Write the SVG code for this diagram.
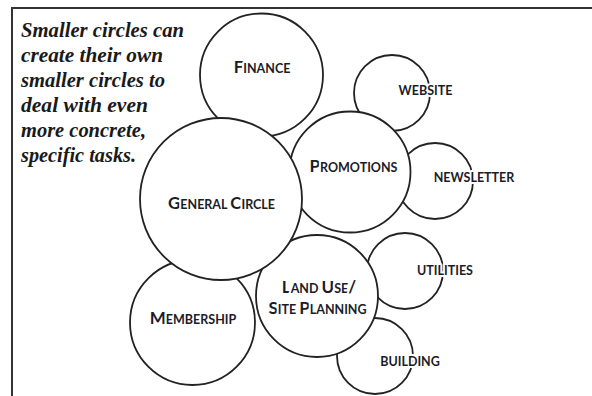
<svg xmlns="http://www.w3.org/2000/svg" width="592" height="396" viewBox="0 0 592 396">
<style>
.c{fill:#fff;stroke:#222;stroke-width:1.8}
.lb{font-family:Lato,"Open Sans",sans-serif;font-weight:bold;fill:#1c1c28;text-anchor:middle;stroke:#fff;stroke-width:4;paint-order:stroke;stroke-linejoin:round}
.big{font-size:17px}
.sm{font-size:12.5px}
.note{font-family:"Liberation Serif","DejaVu Serif",serif;font-style:italic;font-weight:bold;font-size:20px;fill:#1a1a1a}
.frame{stroke:#333;stroke-width:2;fill:none}
</style>
<rect width="592" height="396" fill="#fff"/>
<g id="frame">
<path class="frame" d="M12,396 V8 H592"/>
</g>
<g id="note">
<text class="note" x="21" y="37" textLength="163" lengthAdjust="spacingAndGlyphs">Smaller circles can</text>
<text class="note" x="21" y="62" textLength="142" lengthAdjust="spacingAndGlyphs">create their own</text>
<text class="note" x="21" y="87" textLength="144" lengthAdjust="spacingAndGlyphs">smaller circles to</text>
<text class="note" x="21" y="112" textLength="127" lengthAdjust="spacingAndGlyphs">deal with even</text>
<text class="note" x="21" y="137" textLength="125" lengthAdjust="spacingAndGlyphs">more concrete,</text>
<text class="note" x="21" y="162" textLength="115" lengthAdjust="spacingAndGlyphs">specific tasks.</text>
</g>
<g id="connectors"></g>
<g id="finance"><circle class="c" cx="261.5" cy="75" r="61.5"/></g>
<g id="website"><circle class="c" cx="392" cy="93" r="38"/></g>
<g id="newsletter"><circle class="c" cx="435" cy="181" r="38"/></g>
<g id="promotions"><circle class="c" cx="350" cy="172" r="60.5"/></g>
<g id="utilities"><circle class="c" cx="405" cy="271" r="38"/></g>
<g id="building"><circle class="c" cx="375" cy="356" r="38"/></g>
<g id="landuse"><circle class="c" cx="317" cy="296" r="61"/></g>
<g id="membership"><circle class="c" cx="192.5" cy="322.5" r="62.5"/></g>
<g id="general"><circle class="c" cx="221" cy="199" r="81"/></g>
<g id="labels">
<text class="lb" x="262" y="73"><tspan class="big">F</tspan><tspan class="sm">INANCE</tspan></text>
<text class="lb" x="221.5" y="209"><tspan class="big">G</tspan><tspan class="sm">ENERAL </tspan><tspan class="big">C</tspan><tspan class="sm">IRCLE</tspan></text>
<text class="lb" x="353.5" y="172"><tspan class="big">P</tspan><tspan class="sm">ROMOTIONS</tspan></text>
<text class="lb" x="193" y="324"><tspan class="big">M</tspan><tspan class="sm">EMBERSHIP</tspan></text>
<text class="lb" x="319" y="293"><tspan class="big">L</tspan><tspan class="sm">AND </tspan><tspan class="big">U</tspan><tspan class="sm">SE</tspan><tspan class="big">/</tspan></text>
<text class="lb" x="317.5" y="314"><tspan class="big">S</tspan><tspan class="sm">ITE </tspan><tspan class="big">P</tspan><tspan class="sm">LANNING</tspan></text>
<text class="lb sm" x="425.5" y="95">WEBSITE</text>
<text class="lb sm" x="474" y="182">NEWSLETTER</text>
<text class="lb sm" x="445" y="275">UTILITIES</text>
<text class="lb sm" x="410" y="366">BUILDING</text>
</g>
</svg>
